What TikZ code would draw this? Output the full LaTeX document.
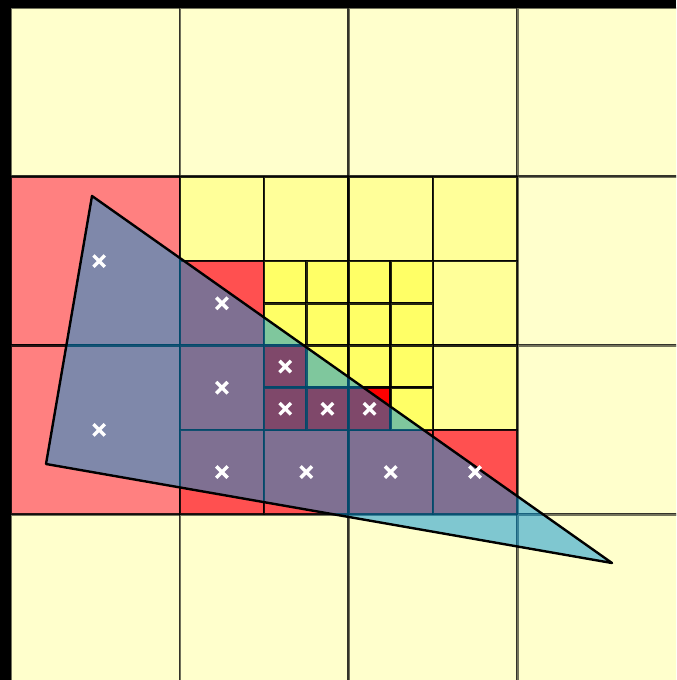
\documentclass[tikz,border=0pt]{standalone}
\usepackage{tikz}
\usetikzlibrary{shapes.misc}
\definecolor{paleyellow}{HTML}{FFFFCC}
\definecolor{salmon}{HTML}{FF8080}
\definecolor{midyellow}{HTML}{FFFF99}
\definecolor{midred}{HTML}{FF5050}
\definecolor{deepyellow}{HTML}{FFFF66}
\definecolor{deepred}{HTML}{FF0000}
\definecolor{triblue}{RGB}{0,145,212}
\begin{document}
\begin{tikzpicture}[x=21.09375pt, y=-21.09375pt,
    lvltwo/.style={draw=black, draw opacity=0.55, line width=1.25pt},
    lvldeep/.style={draw=black, draw opacity=0.85, line width=1.2pt},
    xmark/.style={cross out, draw=white, line width=1.7pt, minimum size=4pt, inner sep=0pt}]
    \useasboundingbox (-0.2607,-0.1896) rectangle (15.763,15.929);
    \fill[black] (-0.2607,-0.1896) rectangle (15.763,15.929);
    \clip (-0.2607,-0.1896) rectangle (15.763,15.929);

    % Coarse cells (4 x 4 units)
    \foreach \cx in {0,4,8,12}
        \foreach \cy in {0,4,8,12}
            \filldraw[lvltwo, fill=paleyellow] (\cx,\cy) rectangle ++(4,4);
    \filldraw[lvldeep, fill=salmon] (0,4) rectangle ++(4,4);
    \filldraw[lvldeep, fill=salmon] (0,8) rectangle ++(4,4);

    % Medium cells (2 x 2 units)
    \foreach \cx/\cy/\col in {4/4/midyellow, 6/4/midyellow, 8/4/midyellow, 10/4/midyellow,
                             4/6/midred, 10/6/midyellow,
                             4/8/midred, 10/8/midyellow,
                             4/10/midred, 6/10/midred, 8/10/midred, 10/10/midred}
        \filldraw[lvldeep, fill=\col] (\cx,\cy) rectangle ++(2,2);

    % Fine cells (1 x 1 unit)
    \foreach \cx/\cy/\col in {6/6/deepyellow, 7/6/deepyellow, 8/6/deepyellow, 9/6/deepyellow,
                             6/7/deepyellow, 7/7/deepyellow, 8/7/deepyellow, 9/7/deepyellow,
                             6/8/deepred, 7/8/deepyellow, 8/8/deepyellow, 9/8/deepyellow,
                             6/9/deepred, 7/9/deepred, 8/9/deepred, 9/9/deepyellow}
        \filldraw[lvldeep, fill=\col] (\cx,\cy) rectangle ++(1,1);

    % Triangle
    \coordinate (apex) at (1.920,4.456);
    \coordinate (west) at (0.830,10.809);
    \coordinate (east) at (14.246,13.156);
    \filldraw[fill=triblue, fill opacity=0.5, draw=black, line width=1.2pt, line join=round]
        (apex) -- (west) -- (east) -- cycle;

    % Sample marks
    \foreach \p [count=\i] in {(2.09,6), (2.09,10), (5,7), (5,9), (5,11), (7,11), (9,11), (11,11),
                               (6.5,8.5), (6.5,9.5), (7.5,9.5), (8.5,9.5)}
        \node[xmark] (mark\i) at \p {};
\end{tikzpicture}
\end{document}
